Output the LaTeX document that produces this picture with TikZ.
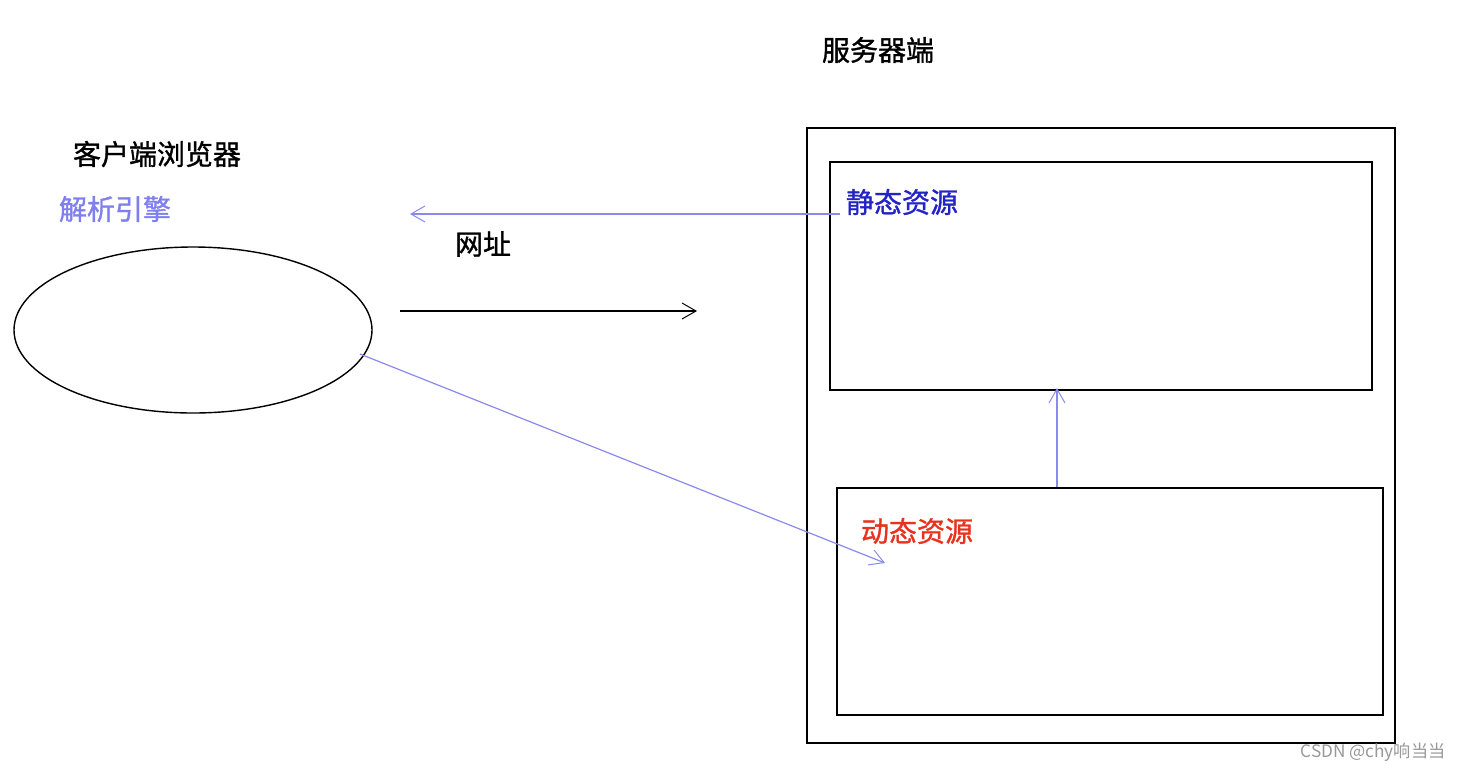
\documentclass[tikz,border=0pt]{standalone}
\usepackage{fontspec}
\setmainfont{Liberation Sans}
\newfontfamily\cjk{Noto Sans CJK SC}
\newfontfamily\cjkb[FakeBold=1.2]{Noto Sans CJK SC}
\usetikzlibrary{arrows.meta,shapes.geometric}
\definecolor{lav}{HTML}{7F7FEF}
\definecolor{arrblue}{HTML}{8A8AEE}
\definecolor{statblue}{HTML}{2323C8}
\definecolor{dynred}{HTML}{E8321E}
\tikzset{
  box/.style={draw=black, line width=1pt},
  lbl/.style={font=\cjkb\fontsize{14}{16}\selectfont, inner sep=0pt},
  barb/.style={-{Straight Barb[length=7pt,width=8pt,line width=0.5pt]}},
  bluearr/.style={barb, draw=arrblue, line width=0.6pt},
  blackarr/.style={barb, draw=black, line width=0.8pt},
}
\begin{document}
\begin{tikzpicture}[x=0.5pt,y=-0.5pt]
\useasboundingbox[fill=white] (0,0) rectangle (1460,772);
% boxes
\draw[box] (807,128) rectangle (1395,743);
\draw[box] (830,162) rectangle (1372,390);
\draw[box] (837,488) rectangle (1383,715);
\coordinate (statbot) at (1057,388);
\coordinate (dyntop) at (1057,487);
% ellipse
\node[draw, ellipse, line width=0.7pt, minimum width=179pt, minimum height=83pt, inner sep=0pt] (eng) at (193,330) {};
% texts
\node[lbl] (server) at (878,50) {服务器端};
\node[lbl] (client) at (157,154) {客户端浏览器};
\node[lbl, text=lav] (engine) at (115,209) {解析引擎};
\node[lbl, text=statblue] (static) at (902,202) {静态资源};
\node[lbl, text=dynred] (dynamic) at (917,531) {动态资源};
\node[lbl] (url) at (483,244) {网址};
\node[font=\cjk\fontsize{8.6}{10}\selectfont, text=gray!80, inner sep=0pt] (wm) at (1373,752) {CSDN @chy响当当};
% connectors
\coordinate (bstart) at (840,214);
\coordinate (bend) at (410,214);
\draw[bluearr] (bstart) -- (bend);
\coordinate (kstart) at (400,311);
\coordinate (kend) at (697,311);
\draw[blackarr] (kstart) -- (kend);
\coordinate (dstart) at (360,354);
\coordinate (dend) at (885,563);
\draw[bluearr] (dstart) -- (dend);
\draw[bluearr] (dyntop) -- (statbot);
\end{tikzpicture}
\end{document}
